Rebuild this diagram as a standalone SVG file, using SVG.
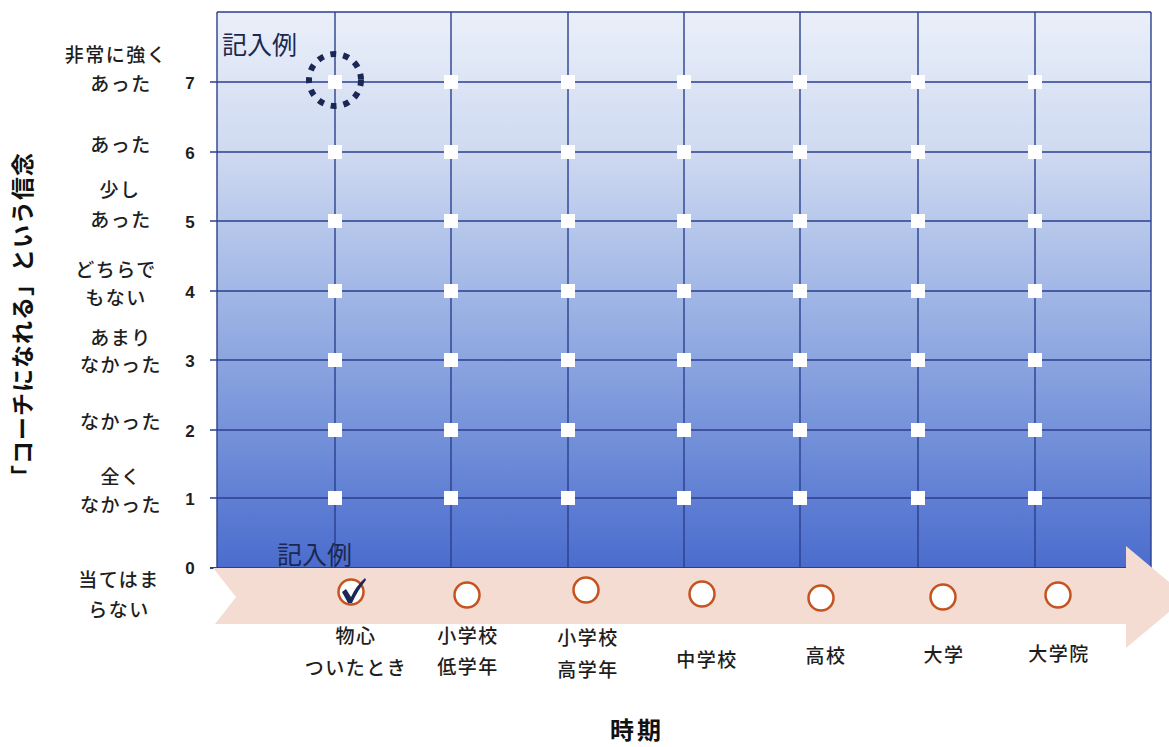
<svg xmlns="http://www.w3.org/2000/svg" width="1169" height="747" viewBox="0 0 1169 747">
<style>
  .lbl{font-family:"Noto Sans CJK JP","Noto Sans",sans-serif;font-size:19px;font-weight:500;letter-spacing:1.5px;fill:#1e1e1e;text-anchor:middle}
  .num{font-family:"Liberation Sans","DejaVu Sans",sans-serif;font-size:17px;font-weight:bold;fill:#1e1e1e;text-anchor:middle}
  .grid{stroke:#2b3f8e;stroke-width:1.4;fill:none}
  .pt{fill:#ffffff}
  .opt{fill:#ffffff;stroke:#c4531f;stroke-width:2.5}
  .ex{font-family:"Noto Sans CJK JP","Noto Sans",sans-serif;font-size:25px;fill:#1c2850}
  .title{font-family:"Noto Sans CJK JP","Noto Sans",sans-serif;font-weight:bold;fill:#111;text-anchor:middle}
</style>
<defs>
  <linearGradient id="bg" x1="0" y1="0" x2="0" y2="1">
    <stop offset="0" stop-color="#eaeff9"/>
    <stop offset="0.25" stop-color="#cfdaf1"/>
    <stop offset="0.6" stop-color="#90a9e1"/>
    <stop offset="1" stop-color="#4a6ccd"/>
  </linearGradient>
</defs>
<rect width="1169" height="747" fill="#ffffff"/>
<g id="plot">
  <rect x="217" y="12" width="934" height="556" fill="url(#bg)"/>
  <g class="grid">
    <line x1="217" y1="12" x2="1151" y2="12"/>
    <line x1="210" y1="82" x2="1151" y2="82"/>
    <line x1="210" y1="152" x2="1151" y2="152"/>
    <line x1="210" y1="221" x2="1151" y2="221"/>
    <line x1="210" y1="291" x2="1151" y2="291"/>
    <line x1="210" y1="360" x2="1151" y2="360"/>
    <line x1="210" y1="430" x2="1151" y2="430"/>
    <line x1="210" y1="498" x2="1151" y2="498"/>
    <line x1="210" y1="568" x2="1151" y2="568" stroke-width="2"/>
    <line x1="217" y1="12" x2="217" y2="568"/>
    <line x1="335" y1="12" x2="335" y2="568"/>
    <line x1="451" y1="12" x2="451" y2="568"/>
    <line x1="568" y1="12" x2="568" y2="568"/>
    <line x1="684" y1="12" x2="684" y2="568"/>
    <line x1="800" y1="12" x2="800" y2="568"/>
    <line x1="918" y1="12" x2="918" y2="568"/>
    <line x1="1035" y1="12" x2="1035" y2="568"/>
    <line x1="1151" y1="12" x2="1151" y2="568"/>
  </g>
</g>
<g id="points">
  <g class="pt">
    <rect x="328" y="75" width="14" height="14"/><rect x="328" y="145" width="14" height="14"/><rect x="328" y="214" width="14" height="14"/><rect x="328" y="284" width="14" height="14"/><rect x="328" y="353" width="14" height="14"/><rect x="328" y="423" width="14" height="14"/><rect x="328" y="491" width="14" height="14"/>
    <rect x="444" y="75" width="14" height="14"/><rect x="444" y="145" width="14" height="14"/><rect x="444" y="214" width="14" height="14"/><rect x="444" y="284" width="14" height="14"/><rect x="444" y="353" width="14" height="14"/><rect x="444" y="423" width="14" height="14"/><rect x="444" y="491" width="14" height="14"/>
    <rect x="561" y="75" width="14" height="14"/><rect x="561" y="145" width="14" height="14"/><rect x="561" y="214" width="14" height="14"/><rect x="561" y="284" width="14" height="14"/><rect x="561" y="353" width="14" height="14"/><rect x="561" y="423" width="14" height="14"/><rect x="561" y="491" width="14" height="14"/>
    <rect x="677" y="75" width="14" height="14"/><rect x="677" y="145" width="14" height="14"/><rect x="677" y="214" width="14" height="14"/><rect x="677" y="284" width="14" height="14"/><rect x="677" y="353" width="14" height="14"/><rect x="677" y="423" width="14" height="14"/><rect x="677" y="491" width="14" height="14"/>
    <rect x="793" y="75" width="14" height="14"/><rect x="793" y="145" width="14" height="14"/><rect x="793" y="214" width="14" height="14"/><rect x="793" y="284" width="14" height="14"/><rect x="793" y="353" width="14" height="14"/><rect x="793" y="423" width="14" height="14"/><rect x="793" y="491" width="14" height="14"/>
    <rect x="911" y="75" width="14" height="14"/><rect x="911" y="145" width="14" height="14"/><rect x="911" y="214" width="14" height="14"/><rect x="911" y="284" width="14" height="14"/><rect x="911" y="353" width="14" height="14"/><rect x="911" y="423" width="14" height="14"/><rect x="911" y="491" width="14" height="14"/>
    <rect x="1028" y="75" width="14" height="14"/><rect x="1028" y="145" width="14" height="14"/><rect x="1028" y="214" width="14" height="14"/><rect x="1028" y="284" width="14" height="14"/><rect x="1028" y="353" width="14" height="14"/><rect x="1028" y="423" width="14" height="14"/><rect x="1028" y="491" width="14" height="14"/>
  </g>
</g>
<g id="example-top">
  <circle cx="335" cy="80" r="26" fill="none" stroke="#1b2755" stroke-width="6" stroke-dasharray="6 7"/>
  <text class="ex" x="222" y="54">記入例</text>
</g>
<g id="timeline">
  <polygon points="213,568 1126,568 1126,546 1187,597 1126,648 1126,624 215,624 236,597" fill="#f4dcd3"/>
</g>
<g id="example-bottom">
  <text class="ex" x="277" y="564">記入例</text>
</g>
<g id="options">
  <circle class="opt" cx="351" cy="592" r="12.5"/>
  <circle class="opt" cx="467" cy="595" r="12.5"/>
  <circle class="opt" cx="586" cy="590" r="12.5"/>
  <circle class="opt" cx="702" cy="594" r="12.5"/>
  <circle class="opt" cx="821" cy="598" r="12.5"/>
  <circle class="opt" cx="943" cy="597" r="12.5"/>
  <circle class="opt" cx="1058" cy="595" r="12.5"/>
  <path d="M342,592 L346,589 L351,597 Q356,586 365,578 L366,580 Q358,590 352,603 L348,603 Z" fill="#1b2755"/>
</g>
<g id="y-labels">
  <text class="num" x="190" y="89">7</text>
  <text class="num" x="190" y="159">6</text>
  <text class="num" x="190" y="228">5</text>
  <text class="num" x="190" y="298">4</text>
  <text class="num" x="190" y="367">3</text>
  <text class="num" x="190" y="437">2</text>
  <text class="num" x="190" y="505">1</text>
  <text class="num" x="190" y="574">0</text>
  <text class="lbl" x="116" y="62">非常に強く</text>
  <text class="lbl" x="121" y="91">あった</text>
  <text class="lbl" x="121" y="152">あった</text>
  <text class="lbl" x="120" y="197">少し</text>
  <text class="lbl" x="121" y="227">あった</text>
  <text class="lbl" x="116" y="277">どちらで</text>
  <text class="lbl" x="116" y="305">もない</text>
  <text class="lbl" x="121" y="345">あまり</text>
  <text class="lbl" x="121" y="372">なかった</text>
  <text class="lbl" x="121" y="429">なかった</text>
  <text class="lbl" x="121" y="484">全く</text>
  <text class="lbl" x="121" y="512">なかった</text>
  <text class="lbl" x="119" y="587">当てはま</text>
  <text class="lbl" x="119" y="617">らない</text>
</g>
<g id="x-labels">
  <text class="lbl" x="356" y="643">物心</text>
  <text class="lbl" x="356" y="675">ついたとき</text>
  <text class="lbl" x="468" y="643">小学校</text>
  <text class="lbl" x="468" y="674">低学年</text>
  <text class="lbl" x="588" y="645">小学校</text>
  <text class="lbl" x="588" y="677">高学年</text>
  <text class="lbl" x="707" y="667">中学校</text>
  <text class="lbl" x="826" y="663">高校</text>
  <text class="lbl" x="944" y="662">大学</text>
  <text class="lbl" x="1059" y="661">大学院</text>
</g>
<g id="axis-titles">
  <text class="title" x="637" y="739" font-size="24" letter-spacing="3">時期</text>
  <text class="title" font-size="23" letter-spacing="1" transform="translate(31,320) rotate(-90)">「コーチになれる」という信念</text>
</g>
</svg>
